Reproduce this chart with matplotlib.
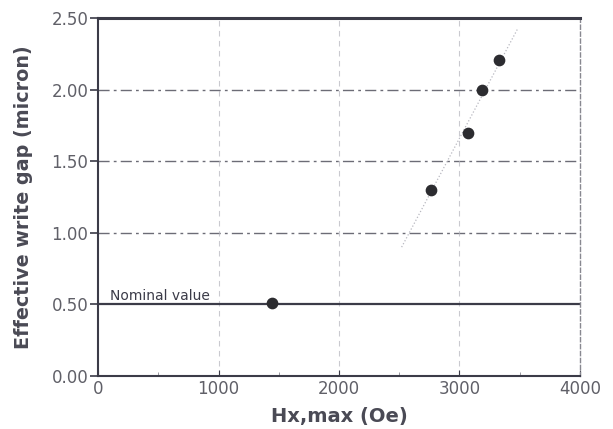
import matplotlib
matplotlib.use("Agg")
import matplotlib.pyplot as plt

# measured points, Hx,max (Oe) vs effective write gap (micron)
hx = [1440, 2760, 3070, 3190, 3330]
gap = [0.51, 1.30, 1.70, 2.00, 2.21]

# faint trend line drawn through the upper points
trend_x = [2520, 3480]
trend_y = [0.90, 2.42]

nominal = 0.5
xticks = [0, 1000, 2000, 3000, 4000]
yticks = [0.0, 0.5, 1.0, 1.5, 2.0, 2.5]

plt.rcParams['font.family'] = ['DejaVu Sans']

fig = plt.figure(figsize=(6.13, 4.29), dpi=100)
ax = fig.add_axes([0.160, 0.1235, 0.786, 0.8345])

ink = '#3b3b48'

# grid lines
for v in [1.0, 1.5, 2.0]:
    ax.axhline(v, color=ink, lw=1.0, ls=(0, (8, 3, 2, 3)), alpha=0.75, zorder=1)
for v in [1000, 2000, 3000]:
    ax.axvline(v, color='#b4b4bc', lw=0.8, ls=(0, (5, 4)), alpha=0.7, zorder=1)

ax.plot(trend_x, trend_y, color='#b8b8c0', lw=0.9, ls=':', zorder=2)
ax.axhline(nominal, color=ink, lw=1.6, zorder=2)
ax.text(100, nominal + 0.008, 'Nominal value', fontsize=10, color='#3b3b48',
        va='bottom', ha='left')

ax.scatter(hx, gap, s=55, color='#2c2c30', zorder=3)

ax.set_xlim(0, 4000)
ax.set_ylim(0, 2.5)
ax.set_xticks(xticks)
ax.set_yticks(yticks)
ax.set_yticklabels(['%.2f' % v for v in yticks])
ax.set_xticks([500, 1500, 2500, 3500], minor=True)
ax.tick_params(axis='y', direction='out', length=6, width=1.2, color=ink,
               labelsize=12, labelcolor='#606068', pad=1)
ax.tick_params(axis='x', which='major', direction='in', length=4, color=ink,
               labelsize=12, labelcolor='#606068', pad=3)
ax.tick_params(axis='x', which='minor', direction='in', length=3, color='#888890')

for s in ['left', 'bottom']:
    ax.spines[s].set_color(ink)
    ax.spines[s].set_linewidth(1.5)
ax.spines['top'].set_color(ink)
ax.spines['top'].set_linewidth(2.2)
ax.spines['right'].set_color('#888890')
ax.spines['right'].set_linewidth(1.0)
ax.spines['right'].set_linestyle((0, (3, 2)))

ax.set_xlabel('Hx,max (Oe)', fontsize=14, fontweight='bold', color='#4a4a55')
ax.set_ylabel('Effective write gap (micron)', fontsize=13.8, fontweight='bold',
              color='#4a4a55')
ax.xaxis.set_label_coords(0.5, -0.087)
ax.yaxis.set_label_coords(-0.135, 0.5)

fig.savefig('out.png', dpi=100)
